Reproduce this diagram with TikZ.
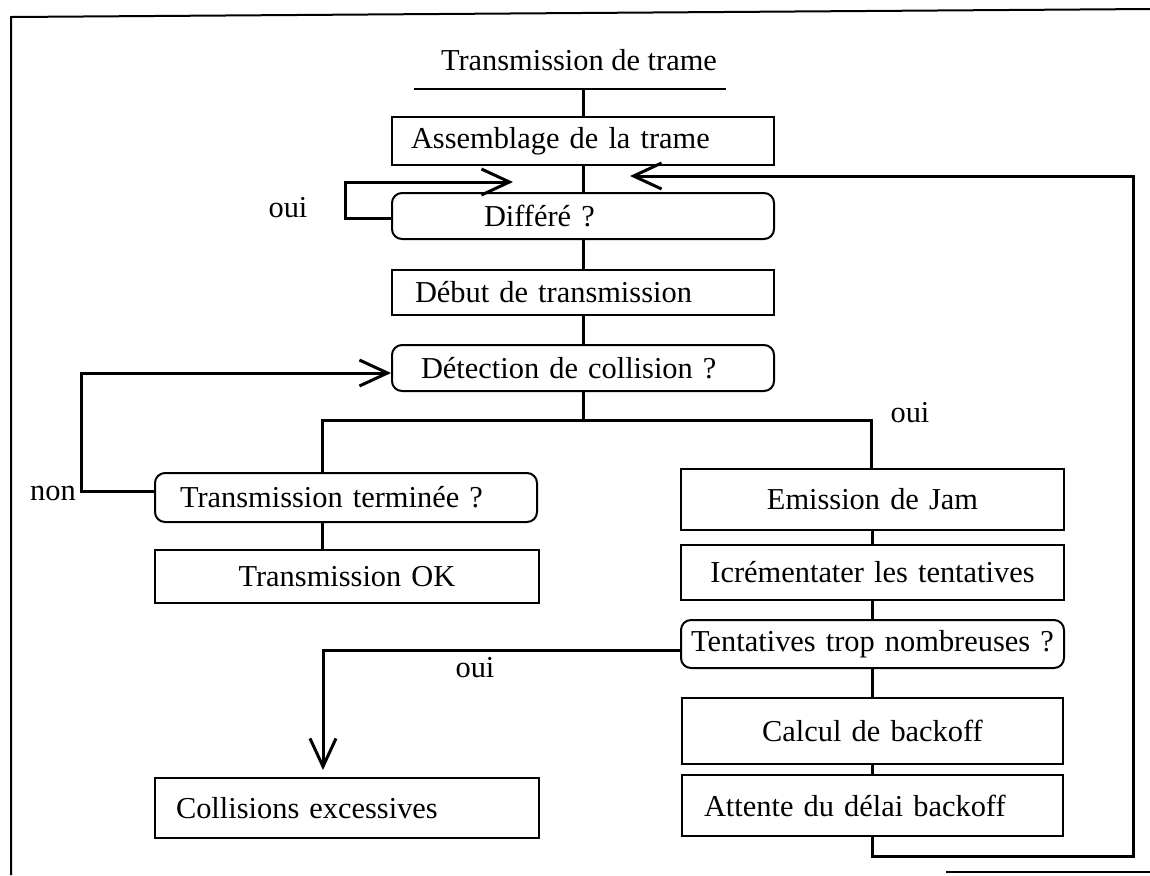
\documentclass[tikz,border=0pt]{standalone}
\usepackage{fontspec}
\setmainfont{Liberation Serif}
\usetikzlibrary{arrows.meta}
\tikzset{
  txt/.style={font=\fontsize{15.2pt}{18pt}\selectfont, inner sep=0pt},
  box/.style={txt, draw, line width=1pt, inner xsep=0pt, inner ysep=0pt, align=center},
  rbox/.style={box, rounded corners=5pt},
  conn/.style={line width=1.5pt},
  barb/.style={-{Straight Barb[length=14pt, width=13pt, line width=1.5pt]}},
  frame/.style={line width=1pt}
}
\begin{document}
\begin{tikzpicture}[x=0.5pt, y=-0.5pt]
\useasboundingbox (0,0) rectangle (1150,875);
% frame
\coordinate (f1) at (1150,9);
\coordinate (f2) at (11,17);
\coordinate (f3) at (11,875);
\coordinate (f4) at (946,872);
\coordinate (f5) at (1150,872);
\draw[frame] (f1) -- (f2) -- (f3);
\draw[frame] (f4) -- (f5);
% title
\node[txt] (title) at (579,60) {Transmission de trame};
\coordinate (hl1) at (414,89);
\coordinate (hl2) at (726,89);
\coordinate (hlc) at (583,89);
\draw[line width=1pt] (hl1) -- (hl2);
% boxes
\node[box, text width=191pt, minimum height=24pt, align=left] (assemb) at (583,141) {\hspace*{9.5pt}Assemblage de la trame};
\node[rbox, text width=191pt, minimum height=23pt, align=left] (differe) at (583,216) {\hspace*{46pt}Différé ?};
\node[box, text width=191pt, minimum height=22.5pt, align=left] (debut) at (583,292.5) {\hspace*{11.5pt}Début de transmission};
\node[rbox, text width=191pt, minimum height=23pt, align=left] (detect) at (583,368) {\hspace*{14.5pt}Détection de collision ?};
\node[rbox, text width=191pt, minimum height=24.5pt, align=left] (term) at (346,497.5) {\hspace*{12.5pt}Transmission terminée ?};
\node[box, text width=192pt, minimum height=26.5pt] (ok) at (347,576.5) {Transmission OK};
\node[box, text width=191.5pt, minimum height=30.5pt] (jam) at (872.5,499.5) {Emission de Jam};
\node[box, text width=191.5pt, minimum height=27.5pt] (incr) at (872.5,572.5) {Icrémentater les tentatives};
\node[rbox, text width=191.5pt, minimum height=24pt] (trop) at (872.5,644) {Tentatives trop nombreuses ?};
\node[box, text width=190.5pt, minimum height=33pt] (calc) at (872.5,731) {Calcul de backoff};
\node[box, text width=190.5pt, minimum height=30.5pt, align=left] (att) at (872.5,805.5) {\hspace*{11pt}Attente du délai backoff};
\node[box, text width=192pt, minimum height=30pt, align=left] (coll) at (347,808) {\hspace*{10.5pt}Collisions excessives};
% labels
\node[txt] (oui1) at (288,208) {oui};
\node[txt] (oui2) at (910,413) {oui};
\node[txt] (non) at (53,493) {non};
\node[txt] (oui3) at (475,668) {oui};
% main chain
\draw[conn] (hlc) -- (assemb.north);
\draw[conn] (assemb.south) -- (differe.north);
\draw[conn] (differe.south) -- (debut.north);
\draw[conn] (debut.south) -- (detect.north);
% branch
\coordinate (brL) at (322,420);
\coordinate (brR) at (871,420);
\draw[conn] (detect.south) -- (detect.south |- brL);
\draw[conn] (term.north -| brL) -- (brL) -- (brR) -- (jam.north -| brR);
\draw[conn] (term.south -| brL) -- (ok.north -| brL);
% non loop
\coordinate (n1) at (81,491);
\coordinate (n2) at (81,373);
\draw[conn, barb] (term.west |- n1) -- (n1) -- (n2) -- (detect.west |- n2);
% differe loop
\coordinate (d1) at (345,218);
\coordinate (d2) at (345,182);
\coordinate (dtip) at (513,182);
\draw[conn, barb] (differe.west |- d1) -- (d1) -- (d2) -- (dtip);
% right chain
\draw[conn] (jam.south) -- (incr.north);
\draw[conn] (incr.south) -- (trop.north);
\draw[conn] (trop.south) -- (calc.north);
\draw[conn] (calc.south) -- (att.north);
% excessive
\coordinate (c1) at (323,650);
\coordinate (ctip) at (323,770);
\draw[conn, barb] (trop.west |- c1) -- (c1) -- (ctip);
% return loop
\coordinate (r1) at (872.5,856);
\coordinate (r2) at (1133,856);
\coordinate (r3) at (1133,176);
\coordinate (rtip) at (630,176);
\draw[conn, barb] (att.south) -- (r1) -- (r2) -- (r3) -- (rtip);
\end{tikzpicture}
\end{document}
